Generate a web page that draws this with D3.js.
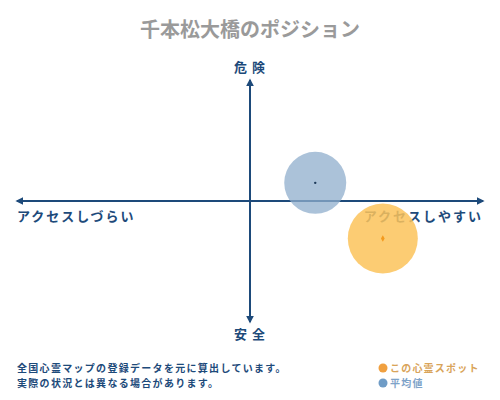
<!DOCTYPE html>
<html><head><meta charset="utf-8">
<script src="https://cdn.jsdelivr.net/npm/d3@7"></script>
<style>body{margin:0;background:#fff}svg{display:block}text{font-family:"Noto Sans CJK JP","Noto Sans",sans-serif}</style>
</head><body>
<svg id="c" width="500" height="400"></svg>
<script>
const title = "千本松大橋のポジション";
const axisLabels = ["危 険", "安 全", "アクセスしづらい", "アクセスしやすい"];
const seriesNames = ["この心霊スポット", "平均値"];
const xValues = [57, 28];   // access ease
const yValues = [-31, 15];  // danger
const notes = ["全国心霊マップの登録データを元に算出しています。", "実際の状況とは異なる場合があります。"];

const svg = d3.select("#c");
const x = d3.scaleLinear().domain([-100, 100]).range([17, 483]);
const y = d3.scaleLinear().domain([-100, 100]).range([322, 80]);
const navy = "#1d4a7a";

svg.append("text").attr("x", 250).attr("y", 37).attr("text-anchor", "middle")
  .attr("font-size", 20).attr("font-weight", "bold").attr("fill", "#9a9a9a").text(title);

const defs = svg.append("defs");
defs.append("marker").attr("id", "ar").attr("viewBox", "0 0 10 10").attr("refX", 8).attr("refY", 5)
  .attr("markerWidth", 4).attr("markerHeight", 4).attr("orient", "auto-start-reverse")
  .append("path").attr("d", "M0,0L10,5L0,10z").attr("fill", navy);

svg.append("line").attr("x1", x(-100)).attr("x2", x(100)).attr("y1", y(0)).attr("y2", y(0))
  .attr("stroke", navy).attr("stroke-width", 2).attr("marker-start", "url(#ar)").attr("marker-end", "url(#ar)");
svg.append("line").attr("x1", x(0)).attr("x2", x(0)).attr("y1", y(100)).attr("y2", y(-100))
  .attr("stroke", navy).attr("stroke-width", 2).attr("marker-start", "url(#ar)").attr("marker-end", "url(#ar)");

const lab = (t, xx, yy, anchor, ls) => svg.append("text").attr("x", xx).attr("y", yy)
  .attr("text-anchor", anchor).attr("font-size", 13).attr("font-weight", "bold")
  .attr("fill", navy).attr("letter-spacing", ls).text(t);
lab(axisLabels[0], x(0), 72, "middle", 1);
lab(axisLabels[1], x(0), 339, "middle", 1);
lab(axisLabels[2], 17, 221, "start", 2);
lab(axisLabels[3], 483, 221, "end", 2);

const radii = [35, 31];
const fills = ["#fcc35a", "#8fadcc"];
const order = [1, 0];
order.forEach(i => {
  svg.append("circle").attr("cx", x(xValues[i])).attr("cy", y(yValues[i])).attr("r", radii[i])
    .attr("fill", fills[i]).attr("fill-opacity", i === 0 ? 0.85 : 0.75);
});
svg.append("circle").attr("cx", x(xValues[1])).attr("cy", y(yValues[1])).attr("r", 1.2).attr("fill", "#1d3a5a");
svg.append("path").attr("d", d3.symbol(d3.symbolDiamond, 12)())
  .attr("transform", `translate(${x(xValues[0])},${y(yValues[0])})`).attr("fill", "#f39a1e");

notes.forEach((t, i) => svg.append("text").attr("x", 17).attr("y", 372 + i * 15)
  .attr("font-size", 10).attr("font-weight", "bold").attr("fill", navy).attr("letter-spacing", 1.3).text(t));

const legDot = ["#f0a040", "#6f9cc6"];
const legText = ["#d9a45a", "#7ea3c9"];
seriesNames.forEach((t, i) => {
  svg.append("circle").attr("cx", 383).attr("cy", 368 + i * 15).attr("r", 4.5).attr("fill", legDot[i]);
  svg.append("text").attr("x", 390).attr("y", 372 + i * 15).attr("font-size", 10).attr("font-weight", "bold")
    .attr("fill", legText[i]).attr("letter-spacing", 1.2).text(t);
});
</script>
</body></html>
